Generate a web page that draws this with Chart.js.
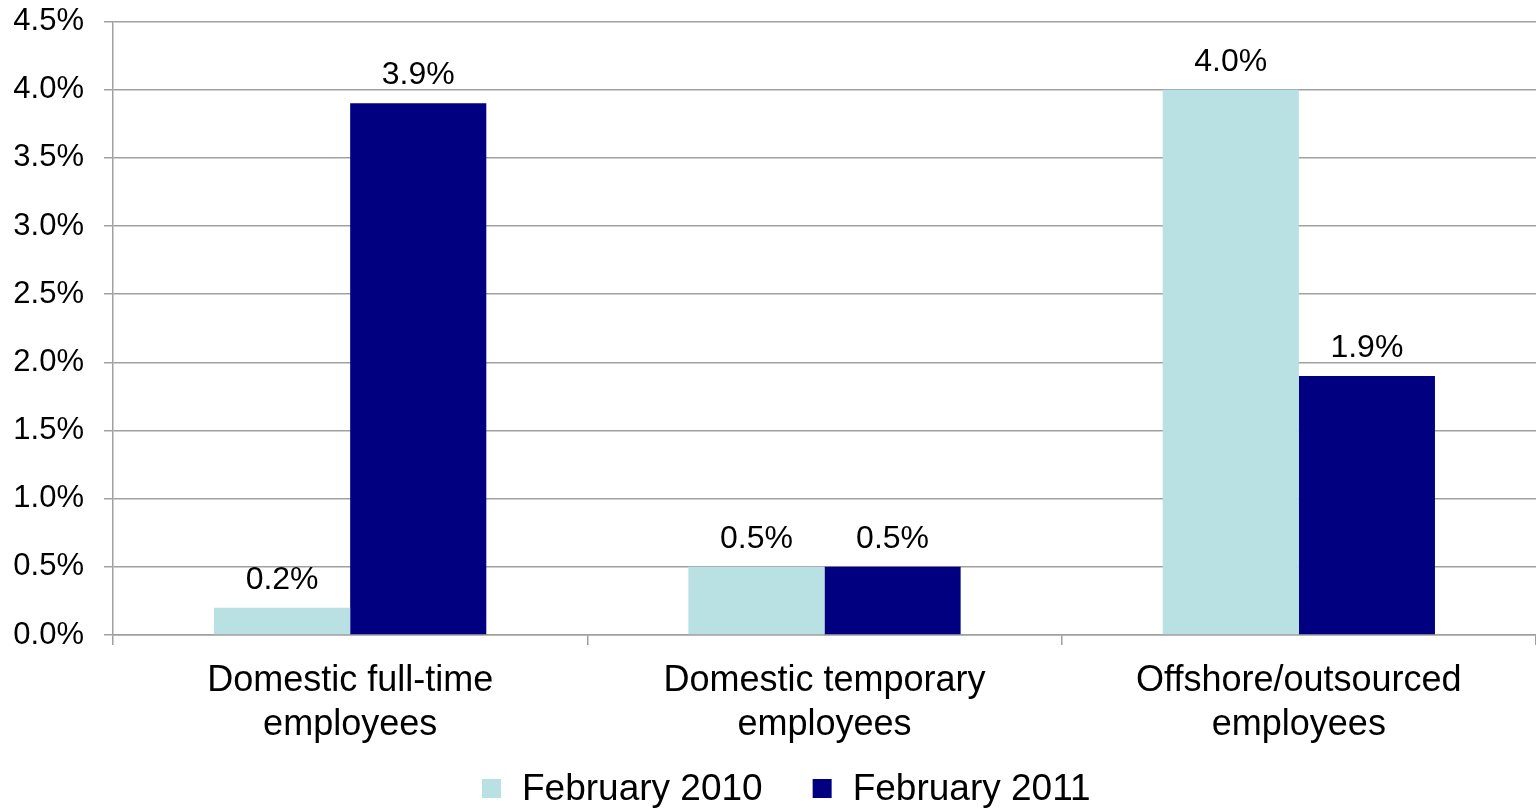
<!DOCTYPE html>
<html>
<head>
<meta charset="utf-8">
<title>Employee change</title>
<script src="https://cdn.jsdelivr.net/npm/chart.js@4.4.1/dist/chart.umd.min.js"></script>
<style>
  html, body { margin: 0; padding: 0; background: #ffffff; }
  #wrap { width: 1536px; height: 808px; position: relative; }
</style>
</head>
<body>
<div id="wrap"><canvas id="chart"></canvas></div>
<script>
// Categories (multi-line labels) and series values, in percent
const categories = [
  ['Domestic full-time', 'employees'],
  ['Domestic temporary', 'employees'],
  ['Offshore/outsourced', 'employees']
];
const seriesNames = ['February 2010', 'February 2011'];
const seriesColors = ['#b9e0e3', '#000080'];
const feb2010 = [0.2, 0.5, 4.0];
const feb2011 = [3.9, 0.5, 1.9];
const yTicks = [0, 0.5, 1.0, 1.5, 2.0, 2.5, 3.0, 3.5, 4.0, 4.5];

const FONT = '"Liberation Sans", Arial, sans-serif';
const GRID = '#a0a0a0';

// Writes each bar's value above it
const valueLabels = {
  id: 'valueLabels',
  afterDatasetsDraw(chart) {
    const ctx = chart.ctx;
    ctx.save();
    ctx.font = '32px ' + FONT;
    ctx.fillStyle = '#000000';
    ctx.textAlign = 'center';
    ctx.textBaseline = 'alphabetic';
    chart.data.datasets.forEach((ds, di) => {
      chart.getDatasetMeta(di).data.forEach((bar, i) => {
        ctx.fillText(ds.data[i].toFixed(1) + '%', bar.x, bar.y - 19);
      });
    });
    ctx.restore();
  }
};

// Legend row under the axis labels: square swatch + series name
const bottomLegend = {
  id: 'bottomLegend',
  afterDraw(chart) {
    const ctx = chart.ctx;
    const box = 19, textGap = 21, itemGap = 50, startX = 482, centerY = 788.5;
    ctx.save();
    ctx.font = '37px ' + FONT;
    ctx.textBaseline = 'middle';
    ctx.textAlign = 'left';
    let x = startX;
    chart.data.datasets.forEach(ds => {
      ctx.fillStyle = ds.backgroundColor;
      ctx.fillRect(x, centerY - box / 2, box, box);
      ctx.fillStyle = '#000000';
      ctx.fillText(ds.label, x + box + textGap, centerY + 1);
      x += box + textGap + ctx.measureText(ds.label).width + itemGap;
    });
    ctx.restore();
  }
};

new Chart(document.getElementById('chart'), {
  type: 'bar',
  data: {
    labels: categories,
    datasets: [
      { label: seriesNames[0], data: feb2010, backgroundColor: seriesColors[0] },
      { label: seriesNames[1], data: feb2011, backgroundColor: seriesColors[1] }
    ]
  },
  options: {
    responsive: true,
    maintainAspectRatio: false,
    animation: false,
    layout: { padding: { top: 0, left: 0, right: 0, bottom: 63 } },
    datasets: { bar: { categoryPercentage: 0.574, barPercentage: 1.0 } },
    scales: {
      x: {
        grid: { display: true, drawOnChartArea: false, drawTicks: true, tickLength: 10, color: GRID, lineWidth: 1.5, offset: true },
        border: { display: true, color: GRID, width: 1.5 },
        ticks: { color: '#000000', padding: 14, maxRotation: 0, autoSkip: false,
                 font: { family: FONT, size: 36, lineHeight: 1.22 } },
        afterFit(scale) { scale.height = 110; }
      },
      y: {
        min: 0, max: 4.5,
        afterBuildTicks(scale) { scale.ticks = yTicks.map(v => ({ value: v })); },
        grid: { color: GRID, lineWidth: 1.5, drawTicks: true, tickLength: 9 },
        border: { display: true, color: GRID, width: 1.5 },
        ticks: { color: '#000000', padding: 20,
                 font: { family: FONT, size: 31, lineHeight: 0.1 },
                 callback: v => Number(v).toFixed(1) + '%' },
        afterFit(scale) { scale.width = 113; }
      }
    },
    plugins: {
      legend: { display: false },
      tooltip: { enabled: false }
    }
  },
  plugins: [valueLabels, bottomLegend]
});
</script>
</body>
</html>
